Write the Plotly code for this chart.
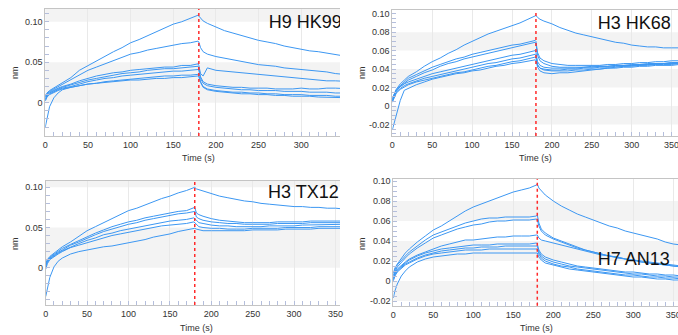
import plotly.graph_objects as go

# ---------------- data (nm) ----------------
time_s = [0, 2, 5, 10, 15, 20, 30, 40, 50, 60, 70, 80, 90, 100, 110, 120, 130, 140, 150, 160, 170, 179, 180,
          182, 185, 190, 200, 210, 220, 230, 240, 250, 260, 270, 280, 290, 300, 310, 320, 330, 340, 350, 360]

hk99_a = [0.008,0.012,0.015,0.018,0.022,0.025,0.031,0.040,0.046,0.052,0.057,0.063,0.068,0.074,0.078,0.083,0.088,0.092,0.097,0.100,0.104,0.108,0.107,
          0.104,0.101,0.098,0.093,0.089,0.086,0.083,0.080,0.077,0.075,0.073,0.070,0.068,0.066,0.064,0.063,0.061,0.059,0.058,0.056]
hk99_b = [0.007,0.011,0.014,0.017,0.020,0.023,0.028,0.034,0.040,0.044,0.048,0.052,0.056,0.060,0.062,0.065,0.067,0.069,0.071,0.073,0.074,0.076,0.075,
          0.068,0.063,0.060,0.057,0.055,0.053,0.051,0.049,0.047,0.046,0.045,0.043,0.042,0.041,0.040,0.039,0.038,0.036,0.035,0.034]
hk99_c = [0.005,0.010,0.013,0.016,0.018,0.020,0.023,0.027,0.030,0.033,0.035,0.037,0.038,0.040,0.041,0.042,0.043,0.044,0.044,0.046,0.046,0.048,0.046,
          0.036,0.033,0.043,0.040,0.039,0.038,0.037,0.036,0.035,0.034,0.033,0.032,0.031,0.030,0.029,0.028,0.027,0.027,0.026,0.026]
hk99_d = [0.004,0.009,0.012,0.015,0.017,0.019,0.022,0.025,0.028,0.030,0.032,0.034,0.036,0.037,0.038,0.040,0.041,0.042,0.042,0.043,0.044,0.045,0.043,
          0.032,0.026,0.023,0.021,0.020,0.019,0.019,0.018,0.018,0.018,0.017,0.017,0.017,0.018,0.017,0.017,0.018,0.018,0.017,0.017]
hk99_e = [0.003,0.008,0.011,0.014,0.016,0.018,0.020,0.023,0.026,0.028,0.030,0.031,0.033,0.034,0.035,0.036,0.037,0.038,0.039,0.039,0.040,0.041,0.040,
          0.030,0.024,0.021,0.019,0.018,0.017,0.016,0.016,0.015,0.015,0.015,0.014,0.014,0.014,0.013,0.013,0.013,0.012,0.012,0.012]
hk99_f = [0.002,0.007,0.010,0.013,0.015,0.017,0.019,0.021,0.023,0.024,0.026,0.027,0.028,0.029,0.030,0.031,0.032,0.033,0.033,0.034,0.034,0.035,0.034,
          0.026,0.020,0.017,0.015,0.014,0.013,0.013,0.012,0.012,0.011,0.011,0.010,0.010,0.010,0.009,0.009,0.009,0.008,0.008,0.008]
hk99_g = [-0.030,-0.018,-0.005,0.006,0.012,0.016,0.019,0.021,0.023,0.024,0.025,0.026,0.027,0.028,0.028,0.029,0.030,0.030,0.031,0.031,0.032,0.033,0.032,
          0.025,0.019,0.016,0.014,0.013,0.012,0.011,0.011,0.010,0.010,0.009,0.009,0.008,0.008,0.008,0.007,0.007,0.007,0.007,0.006]

hk68_a = [0.005,0.012,0.018,0.024,0.028,0.032,0.037,0.043,0.048,0.052,0.057,0.061,0.066,0.070,0.074,0.078,0.081,0.084,0.087,0.090,0.094,0.098,0.098,
          0.096,0.094,0.092,0.089,0.085,0.082,0.079,0.077,0.075,0.073,0.071,0.069,0.068,0.066,0.065,0.064,0.064,0.063,0.063,0.063]
hk68_b = [0.008,0.013,0.018,0.022,0.026,0.030,0.034,0.038,0.042,0.045,0.048,0.051,0.053,0.056,0.058,0.060,0.062,0.064,0.066,0.067,0.069,0.071,0.070,
          0.058,0.052,0.049,0.046,0.045,0.044,0.044,0.044,0.044,0.044,0.045,0.045,0.046,0.046,0.047,0.047,0.048,0.048,0.049,0.049]
hk68_c = [0.006,0.011,0.016,0.021,0.025,0.028,0.032,0.036,0.039,0.043,0.046,0.048,0.051,0.053,0.055,0.057,0.059,0.061,0.063,0.065,0.067,0.069,0.068,
          0.055,0.049,0.046,0.043,0.042,0.042,0.042,0.042,0.043,0.043,0.043,0.044,0.044,0.044,0.045,0.045,0.046,0.046,0.047,0.047]
hk68_d = [0.007,0.012,0.017,0.021,0.024,0.026,0.029,0.032,0.035,0.037,0.039,0.041,0.043,0.045,0.047,0.049,0.051,0.053,0.055,0.056,0.058,0.060,0.058,
          0.048,0.044,0.042,0.041,0.041,0.041,0.041,0.042,0.042,0.043,0.043,0.044,0.044,0.045,0.045,0.046,0.046,0.046,0.047,0.047]
hk68_e = [0.005,0.010,0.015,0.019,0.022,0.024,0.027,0.030,0.032,0.034,0.036,0.038,0.040,0.042,0.044,0.046,0.047,0.049,0.051,0.052,0.054,0.056,0.055,
          0.045,0.041,0.039,0.038,0.038,0.038,0.039,0.039,0.040,0.040,0.041,0.041,0.042,0.042,0.043,0.043,0.044,0.044,0.044,0.045]
hk68_f = [0.004,0.009,0.014,0.018,0.021,0.023,0.026,0.028,0.030,0.032,0.034,0.036,0.037,0.039,0.041,0.043,0.044,0.046,0.048,0.049,0.051,0.053,0.052,
          0.042,0.038,0.036,0.035,0.036,0.036,0.037,0.038,0.039,0.040,0.041,0.042,0.043,0.043,0.044,0.044,0.045,0.045,0.045,0.046]
hk68_g = [-0.026,-0.019,-0.009,0.006,0.017,0.019,0.023,0.026,0.029,0.031,0.033,0.035,0.036,0.038,0.039,0.041,0.043,0.044,0.046,0.047,0.049,0.050,0.049,
          0.044,0.041,0.040,0.039,0.039,0.040,0.040,0.041,0.041,0.042,0.042,0.043,0.043,0.044,0.044,0.045,0.045,0.046,0.046,0.046]

tx12_a = [0.005,0.010,0.014,0.018,0.022,0.026,0.032,0.039,0.046,0.051,0.056,0.061,0.066,0.071,0.074,0.078,0.082,0.086,0.089,0.093,0.096,0.100,0.100,
          0.098,0.097,0.095,0.092,0.089,0.087,0.085,0.083,0.082,0.080,0.079,0.078,0.077,0.076,0.076,0.075,0.075,0.074,0.074,0.073]
tx12_b = [0.003,0.009,0.013,0.017,0.020,0.024,0.029,0.034,0.039,0.043,0.047,0.051,0.054,0.057,0.059,0.062,0.064,0.066,0.068,0.070,0.071,0.074,0.075,
          0.068,0.066,0.064,0.061,0.059,0.058,0.057,0.056,0.056,0.056,0.056,0.057,0.057,0.057,0.057,0.058,0.058,0.058,0.058,0.058]
tx12_c = [0.002,0.008,0.012,0.016,0.019,0.022,0.028,0.032,0.037,0.041,0.045,0.048,0.051,0.054,0.056,0.059,0.061,0.063,0.065,0.067,0.068,0.070,0.070,
          0.063,0.061,0.059,0.057,0.056,0.055,0.055,0.054,0.054,0.054,0.054,0.055,0.055,0.055,0.055,0.056,0.056,0.056,0.056,0.056]
tx12_d = [0.001,0.007,0.011,0.015,0.018,0.021,0.026,0.030,0.034,0.037,0.041,0.043,0.046,0.048,0.050,0.052,0.054,0.056,0.058,0.059,0.060,0.062,0.061,
          0.058,0.056,0.055,0.053,0.052,0.052,0.051,0.051,0.051,0.051,0.052,0.052,0.052,0.052,0.053,0.053,0.053,0.053,0.053,0.054]
tx12_e = [-0.002,0.005,0.010,0.014,0.017,0.020,0.025,0.028,0.031,0.034,0.037,0.040,0.042,0.044,0.046,0.048,0.050,0.052,0.053,0.054,0.055,0.057,0.056,
          0.053,0.051,0.050,0.049,0.049,0.048,0.048,0.048,0.049,0.049,0.049,0.049,0.050,0.050,0.050,0.050,0.051,0.051,0.051,0.051]
tx12_f = [-0.036,-0.026,-0.012,0.001,0.008,0.012,0.017,0.020,0.022,0.024,0.026,0.027,0.029,0.031,0.033,0.035,0.038,0.040,0.042,0.045,0.047,0.049,0.049,
          0.048,0.047,0.046,0.046,0.046,0.046,0.046,0.046,0.047,0.047,0.047,0.047,0.048,0.048,0.048,0.048,0.049,0.049,0.049,0.049]

an13_a = [0.008,0.013,0.017,0.023,0.028,0.032,0.039,0.045,0.051,0.055,0.060,0.065,0.070,0.074,0.077,0.080,0.083,0.086,0.089,0.091,0.093,0.096,0.097,
          0.093,0.090,0.086,0.080,0.075,0.071,0.067,0.064,0.061,0.058,0.055,0.053,0.050,0.048,0.046,0.044,0.042,0.039,0.037,0.036]
an13_b = [0.006,0.011,0.016,0.021,0.025,0.029,0.035,0.041,0.046,0.049,0.052,0.055,0.058,0.060,0.062,0.063,0.063,0.064,0.064,0.064,0.064,0.065,0.066,
          0.058,0.052,0.048,0.043,0.040,0.037,0.034,0.031,0.029,0.027,0.025,0.023,0.022,0.021,0.019,0.018,0.017,0.016,0.015,0.014]
an13_c = [0.004,0.009,0.014,0.019,0.023,0.027,0.033,0.038,0.043,0.046,0.049,0.052,0.054,0.056,0.057,0.059,0.060,0.060,0.061,0.061,0.061,0.062,0.061,
          0.055,0.050,0.046,0.042,0.039,0.036,0.033,0.031,0.029,0.027,0.025,0.024,0.022,0.021,0.019,0.018,0.017,0.016,0.015,0.014]
an13_d = [0.003,0.008,0.012,0.016,0.019,0.022,0.026,0.029,0.032,0.035,0.037,0.039,0.041,0.041,0.042,0.043,0.044,0.044,0.045,0.045,0.045,0.046,0.046,
          0.043,0.041,0.040,0.038,0.036,0.034,0.032,0.030,0.028,0.026,0.025,0.024,0.022,0.021,0.020,0.019,0.018,0.017,0.016,0.015]
an13_e = [0.002,0.007,0.011,0.015,0.018,0.021,0.025,0.028,0.030,0.032,0.033,0.034,0.035,0.036,0.036,0.036,0.037,0.037,0.037,0.037,0.037,0.038,0.037,
          0.031,0.027,0.024,0.021,0.019,0.017,0.015,0.014,0.013,0.012,0.011,0.010,0.009,0.009,0.008,0.007,0.007,0.006,0.006,0.005]
an13_f = [0.001,0.006,0.010,0.014,0.017,0.019,0.023,0.026,0.028,0.030,0.031,0.032,0.033,0.033,0.034,0.034,0.034,0.035,0.035,0.035,0.035,0.035,0.035,
          0.029,0.025,0.022,0.019,0.017,0.015,0.014,0.013,0.012,0.011,0.010,0.009,0.008,0.007,0.007,0.006,0.005,0.005,0.004,0.004]
an13_g = [0.000,0.005,0.009,0.013,0.016,0.018,0.022,0.025,0.027,0.028,0.029,0.030,0.031,0.031,0.031,0.032,0.032,0.032,0.032,0.032,0.032,0.032,0.032,
          0.027,0.023,0.020,0.017,0.015,0.014,0.012,0.011,0.010,0.009,0.008,0.007,0.006,0.006,0.005,0.004,0.004,0.003,0.003,0.002]
an13_h = [-0.017,-0.010,-0.003,0.005,0.010,0.014,0.019,0.022,0.024,0.025,0.026,0.027,0.027,0.028,0.028,0.028,0.028,0.028,0.028,0.028,0.028,0.028,0.028,
          0.024,0.021,0.018,0.016,0.014,0.012,0.011,0.010,0.009,0.008,0.007,0.006,0.005,0.004,0.004,0.003,0.002,0.002,0.001,0.001]

panel_names = ["H9 HK99", "H3 HK68", "H3 TX12", "H7 AN13"]
panel_series = [
    [hk99_a, hk99_b, hk99_c, hk99_d, hk99_e, hk99_f, hk99_g],
    [hk68_a, hk68_b, hk68_c, hk68_d, hk68_e, hk68_f, hk68_g],
    [tx12_a, tx12_b, tx12_c, tx12_d, tx12_e, tx12_f],
    [an13_a, an13_b, an13_c, an13_d, an13_e, an13_f, an13_g, an13_h],
]
switch_time = 180
x_ticks = [0, 50, 100, 150, 200, 250, 300, 350]
y_ticks_a = [0, 0.05, 0.10]
y_ticklabels_a = ["0", "0.05", "0.10"]
y_ticks_b = [-0.02, 0, 0.02, 0.04, 0.06, 0.08, 0.10]
y_ticklabels_b = ["-0.02", "0", "0.02", "0.04", "0.06", "0.08", "0.10"]

for s in panel_series:
    for c in s:
        assert len(c) == len(time_s), len(c)

# ---------------- layout (pixel geometry) ----------------
W, H = 678, 335
def px(x): return x / W
def py(y): return 1 - y / H

panels = [
    dict(xd=(45.3, 340), yd=(136, 9), xr=(0, 345.5), yr=(-0.0411, 0.1157),
         yt=(y_ticks_a, y_ticklabels_a), bands=[(0.10, 0.2), (0.0, 0.05)],
         label_at=(262, 0.0972), title_x=198.7, title_y=158, nm=(15, 73)),
    dict(xd=(392.3, 678), yd=(136, 10), xr=(0, 358), yr=(-0.0325, 0.104),
         yt=(y_ticks_b, y_ticklabels_b), bands=[(0.06, 0.08), (0.02, 0.04), (-0.02, 0.0)],
         label_at=(257.5, 0.0888), title_x=535.7, title_y=157.7, nm=(362, 73)),
    dict(xd=(45.7, 340), yd=(305, 180.7), xr=(0, 355.4), yr=(-0.0464, 0.1082),
         yt=(y_ticks_a, y_ticklabels_a), bands=[(0.10, 0.2), (0.0, 0.05)],
         label_at=(268.5, 0.0929), title_x=196, title_y=328, nm=(15, 244)),
    dict(xd=(393.3, 678), yd=(305.7, 179), xr=(0, 355.9), yr=(-0.0247, 0.102),
         yt=(y_ticks_b, y_ticklabels_b), bands=[(0.06, 0.08), (0.02, 0.04), (-0.02, 0.0)],
         label_at=(255.5, 0.021), title_x=536.7, title_y=328, nm=(362, 244)),
]

FONT = "Liberation Sans, Arial, sans-serif"
LINE_BLUE = "#3c97f2"
AXIS_GRAY = "#c4c4c4"
TICK_COL = "#b4bedc"
BAND = "#f3f3f3"

fig = go.Figure()
layout = dict(width=W, height=H, margin=dict(l=0, r=0, t=0, b=0, autoexpand=False),
              paper_bgcolor="white", plot_bgcolor="white", showlegend=False,
              font=dict(family=FONT, size=9, color="#333333"))
shapes, annotations = [], []

for i, (p, series, name) in enumerate(zip(panels, panel_series, panel_names)):
    n = "" if i == 0 else str(i + 1)
    xa, ya = "x" + n, "y" + n
    layout["xaxis" + n] = dict(
        domain=[px(p["xd"][0]), px(p["xd"][1])], range=list(p["xr"]), anchor=ya,
        automargin=False, ticklabeloverflow="allow",
        tickvals=x_ticks, ticks="inside", ticklen=4, tickcolor=TICK_COL,
        showgrid=True, gridcolor="#e9e9e9", gridwidth=1, zeroline=False,
        showline=True, linecolor=AXIS_GRAY, linewidth=1, mirror=True,
        minor=dict(dtick=10, ticks="inside", ticklen=4, tickcolor=TICK_COL, showgrid=False),
        tickfont=dict(size=9, color="#333333", family=FONT), fixedrange=True)
    layout["yaxis" + n] = dict(
        domain=[py(p["yd"][0]), py(p["yd"][1])], range=list(p["yr"]), anchor=xa,
        automargin=False,
        tickvals=p["yt"][0], ticktext=p["yt"][1], ticks="inside", ticklen=4, tickcolor=TICK_COL,
        showgrid=False, zeroline=False, showline=True, linecolor=AXIS_GRAY, linewidth=1,
        minor=dict(dtick=0.01 if i in (0, 2) else 0.005, ticks="inside", ticklen=4,
                   tickcolor=TICK_COL, showgrid=False),
        tickfont=dict(size=9, color="#333333", family=FONT), fixedrange=True)

    for (b0, b1) in p["bands"]:
        shapes.append(dict(type="rect", xref=xa + " domain", yref=ya, x0=0, x1=1,
                           y0=b0, y1=b1, fillcolor=BAND, line=dict(width=0), layer="below"))
    shapes.append(dict(type="line", xref=xa, yref=ya + " domain", x0=switch_time, x1=switch_time,
                       y0=0, y1=1, line=dict(color="#ff2a2a", width=1.5, dash="dot"), layer="above"))

    for c in series:
        fig.add_trace(go.Scatter(x=time_s, y=c, mode="lines", xaxis=xa, yaxis=ya,
                                 line=dict(color=LINE_BLUE, width=1), hoverinfo="skip"))
    fig.add_trace(go.Scatter(x=[p["label_at"][0]], y=[p["label_at"][1]], mode="text",
                             text=[name], textposition="middle right", cliponaxis=True,
                             textfont=dict(family=FONT, size=18, color="#111111"),
                             xaxis=xa, yaxis=ya, hoverinfo="skip"))

    annotations.append(dict(text="Time (s)", xref="paper", yref="paper", x=px(p["title_x"]),
                            y=py(p["title_y"]), showarrow=False, xanchor="center", yanchor="middle",
                            font=dict(family=FONT, size=9, color="#333333")))
    annotations.append(dict(text="nm", xref="paper", yref="paper", x=px(p["nm"][0]),
                            y=py(p["nm"][1]), showarrow=False, textangle=-90,
                            xanchor="center", yanchor="middle",
                            font=dict(family=FONT, size=9, color="#333333")))

layout["shapes"] = shapes
layout["annotations"] = annotations
fig.update_layout(**layout)
fig.write_html("out.html", config={"displayModeBar": False},
               post_script="document.body.style.margin='0';document.body.style.overflow='hidden';")
